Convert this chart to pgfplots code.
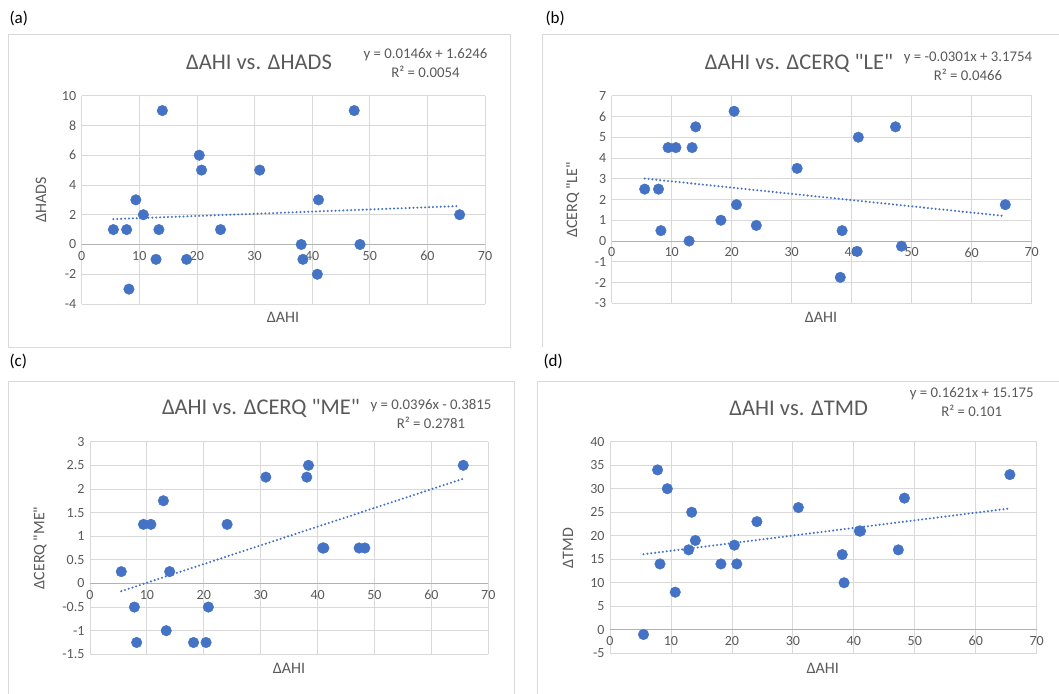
\documentclass[border=0pt]{standalone}
\usepackage{fontspec}
\setmainfont{Carlito}[Ligatures=TeXOff]
\usepackage{pgfplots}
\pgfplotsset{compat=1.18}
\definecolor{pt}{HTML}{4472C4}
\definecolor{txt}{HTML}{595959}
\definecolor{grd}{HTML}{D9D9D9}

% x = change in AHI, same subjects in all four panels
\pgfplotstableread{
x     hads  le     me     tmd
5.5   1     2.5    0.25   -1
7.8   1     2.5   -0.5    34
8.2  -3     0.5   -1.25   14
9.4   3     4.5    1.25   30
10.7  2     4.5    1.25   8
12.9 -1     0      1.75   17
13.4  1     4.5   -1      25
14.0  9     5.5    0.25   19
18.2 -1     1     -1.25   14
20.4  6     6.25  -1.25   18
20.8  5     1.75  -0.5    14
24.1  1     0.75   1.25   23
30.9  5     3.5    2.25   26
38.1  0    -1.75   2.25   16
38.4 -1     0.5    2.5    10
40.9 -2    -0.5    0.75   21
41.1  3     5      0.75   21
47.3  9     5.5    0.75   17
48.3  0    -0.25   0.75   28
65.6  2     1.75   2.5    33
}\datatab

\pgfplotsset{exl/.style={
  scale only axis,
  xmin=0, xmax=70, xtick={0,10,...,70},
  axis x line*=middle, axis y line*=left,
  y axis line style={draw=none},
  x axis line style={draw=black!30, line width=0.8pt},
  grid=major, grid style={grd, line width=0.8pt},
  major tick length=0pt,
  hide obscured x ticks=false, hide obscured y ticks=false,
  tick label style={font=\fontsize{14}{16}\selectfont, text=txt},
  /pgf/number format/assume math mode=true,
  xticklabel style={yshift=-3pt},
  yticklabel style={xshift=-2pt},
  clip=false,
}}
\tikzset{
  dots/.style={only marks, mark=*, mark size=5.3pt, mark options={draw=pt, fill=pt}},
  trend/.style={pt, line width=2.3pt, line cap=round, dash pattern=on 0pt off 3.9pt},
  ttl/.style={font=\fontsize{22.5}{26}\selectfont, text=txt},
  eqn/.style={font=\fontsize{14.8}{19}\selectfont, text=txt, align=center},
  lbl/.style={font=\fontsize{16}{19}\selectfont, text=txt},
  pan/.style={font=\fontsize{17}{20}\selectfont, anchor=west},
}

\begin{document}
\begin{tikzpicture}[x=1pt,y=1pt]
\path[use as bounding box] (0,0) rectangle (1059,693);

% chart frames
\draw[grd, line width=0.8pt] (8,659) rectangle (510,346);
\draw[grd, line width=0.8pt] (542,346) -- (542,659) -- (1062,659);
\draw[grd, line width=0.8pt] (8,-5) -- (8,312) -- (514,312) -- (514,-5);
\draw[grd, line width=0.8pt] (537,-5) -- (537,312) -- (1062,312);

% panel letters
\node[pan] at (6,675) {(a)};
\node[pan] at (542,675) {(b)};
\node[pan] at (6,332) {(c)};
\node[pan] at (540,332) {(d)};

% (a)
\begin{axis}[exl, at={(81.7pt,389pt)}, anchor=south west,
  width=403.3pt, height=208.3pt, ymin=-4, ymax=10, ytick={-4,-2,...,10}]
\addplot[dots] table[x=x, y=hads] {\datatab};
\addplot[trend] coordinates {(5.5,1.705)(65.6,2.582)};
\end{axis}
\node[ttl] at (259,631) {ΔAHI vs. ΔHADS};
\node[eqn] at (425.5,630) {y = 0.0146x + 1.6246\\R² = 0.0054};
\node[lbl, rotate=90] at (41,493) {ΔHADS};
\node[lbl] at (283,376) {ΔAHI};

% (b)
\begin{axis}[exl, at={(611.7pt,389.7pt)}, anchor=south west,
  width=420pt, height=207.6pt, ymin=-3, ymax=7, ytick={-3,-2,...,7}]
\addplot[dots] table[x=x, y=le] {\datatab};
\addplot[trend] coordinates {(5.5,3.010)(65.6,1.201)};
\end{axis}
\node[ttl] at (799,630) {ΔAHI vs. ΔCERQ "LE"};
\node[eqn] at (968,627) {y = -0.0301x + 3.1754\\R² = 0.0466};
\node[lbl, rotate=90] at (572.7,493) {ΔCERQ "LE"};
\node[lbl] at (821,376) {ΔAHI};

% (c)
\begin{axis}[exl, at={(90pt,38.7pt)}, anchor=south west,
  width=398.3pt, height=212.6pt, ymin=-1.5, ymax=3, ytick={-1.5,-1,...,3}]
\addplot[dots] table[x=x, y=me] {\datatab};
\addplot[trend] coordinates {(5.5,-0.164)(65.6,2.216)};
\end{axis}
\node[ttl] at (261,285) {ΔAHI vs. ΔCERQ "ME"};
\node[eqn] at (431,279) {y = 0.0396x - 0.3815\\R² = 0.2781};
\node[lbl, rotate=90] at (40,145) {ΔCERQ "ME"};
\node[lbl] at (289,25) {ΔAHI};

% (d)
\begin{axis}[exl, at={(610pt,39.7pt)}, anchor=south west,
  width=426.7pt, height=211.6pt, ymin=-5, ymax=40, ytick={-5,0,...,40}]
\addplot[dots] table[x=x, y=tmd] {\datatab};
\addplot[trend] coordinates {(5.5,16.07)(65.6,25.81)};
\end{axis}
\node[ttl] at (798.7,285) {ΔAHI vs. ΔTMD};
\node[eqn] at (971.7,291) {y = 0.1621x + 15.175\\R² = 0.101};
\node[lbl, rotate=90] at (568,145) {ΔTMD};
\node[lbl] at (822.7,25) {ΔAHI};
\end{tikzpicture}
\end{document}
